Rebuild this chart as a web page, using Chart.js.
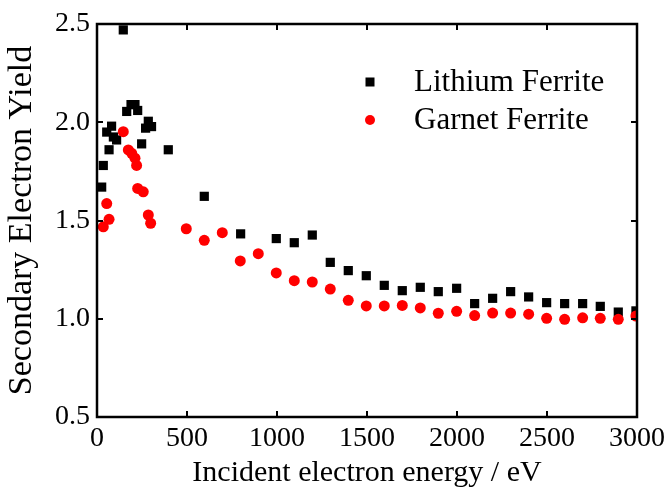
<!DOCTYPE html>
<html><head><meta charset="utf-8">
<script src="https://cdn.jsdelivr.net/npm/chart.js@4.4.0/dist/chart.umd.min.js"></script>
<style>html,body{margin:0;padding:0;background:#fff}canvas{display:block}</style>
</head><body>
<canvas id="c" width="666" height="495"></canvas>
<script>
// ---- data ----
const seriesNames = ['Lithium Ferrite', 'Garnet Ferrite'];
const lithiumX = [26, 35, 54, 67, 81, 91, 109, 146, 165, 189, 211, 226, 248, 270, 285, 303, 396, 596, 798, 996, 1096, 1196, 1296, 1396, 1496, 1596, 1696, 1796, 1896, 1998, 2098, 2198, 2298, 2398, 2498, 2598, 2698, 2796, 2896, 2994];
const lithiumY = [1.67, 1.78, 1.95, 1.86, 1.98, 1.925, 1.91, 2.47, 2.055, 2.09, 2.09, 2.06, 1.89, 1.97, 2.005, 1.978, 1.86, 1.623, 1.432, 1.408, 1.387, 1.426, 1.287, 1.245, 1.219, 1.17, 1.143, 1.16, 1.138, 1.155, 1.077, 1.104, 1.138, 1.111, 1.082, 1.077, 1.077, 1.063, 1.034, 1.04];
const garnetX = [35, 54, 67, 146, 174, 193, 211, 220, 226, 257, 285, 298, 496, 596, 696, 796, 896, 996, 1096, 1196, 1296, 1396, 1496, 1596, 1696, 1796, 1896, 1998, 2098, 2198, 2298, 2398, 2498, 2598, 2698, 2796, 2896, 2994];
const garnetY = [1.468, 1.586, 1.506, 1.952, 1.859, 1.842, 1.817, 1.78, 1.663, 1.646, 1.528, 1.486, 1.458, 1.399, 1.438, 1.294, 1.331, 1.233, 1.194, 1.187, 1.151, 1.094, 1.065, 1.065, 1.068, 1.055, 1.028, 1.038, 1.016, 1.029, 1.029, 1.023, 1.002, 0.997, 1.005, 1.002, 0.997, 1.014];
const xTickValues = [0, 500, 1000, 1500, 2000, 2500, 3000];
const yTickValues = [0.5, 1.0, 1.5, 2.0, 2.5];
const xTitle = 'Incident electron energy / eV';
const yTitle = 'Secondary Electron Yield';

const FONT = "'Liberation Serif', 'Times New Roman', serif";
const toPoints = (xs, ys) => xs.map((x, i) => ({x: x, y: ys[i]}));

// frame + inward ticks, drawn through the chart's own scales
const framePlugin = {
  id: 'frame',
  afterDatasetsDraw(chart) {
    const {ctx, chartArea: a, scales: {x, y}} = chart;
    ctx.save();
    ctx.strokeStyle = '#000';
    ctx.lineWidth = 2.5;
    ctx.strokeRect(a.left, a.top, a.right - a.left, a.bottom - a.top);
    ctx.lineWidth = 2;
    const L = 6;
    ctx.beginPath();
    xTickValues.forEach(v => {
      const px = Math.round(x.getPixelForValue(v));
      ctx.moveTo(px, a.bottom); ctx.lineTo(px, a.bottom - L);
      ctx.moveTo(px, a.top); ctx.lineTo(px, a.top + L);
    });
    yTickValues.forEach(v => {
      const py = Math.round(y.getPixelForValue(v));
      ctx.moveTo(a.left, py); ctx.lineTo(a.left + L, py);
      ctx.moveTo(a.right, py); ctx.lineTo(a.right - L, py);
    });
    ctx.stroke();
    ctx.restore();
  }
};

// legend drawn inside the plot
const legendPlugin = {
  id: 'insideLegend',
  afterDraw(chart) {
    const ctx = chart.ctx;
    ctx.save();
    ctx.font = '31px ' + FONT;
    ctx.textBaseline = 'middle';
    ctx.fillStyle = '#000';
    const mx = 370, tx = 414, rows = [82, 120];
    chart.data.datasets.slice().sort((p, q) => p.legendIndex - q.legendIndex).forEach((ds, i) => {
      const cy = rows[i];
      ctx.fillStyle = ds.backgroundColor;
      if (ds.pointStyle === 'rect') {
        ctx.fillRect(mx - 4.5, cy - 4.5, 9, 9);
      } else {
        ctx.beginPath(); ctx.arc(mx, cy, 5, 0, Math.PI * 2); ctx.fill();
      }
      ctx.fillStyle = '#000';
      ctx.fillText(ds.label, tx, cy + 1);
    });
    ctx.restore();
  }
};

new Chart(document.getElementById('c'), {
  type: 'scatter',
  data: {
    datasets: [
      {label: seriesNames[1], legendIndex: 1, data: toPoints(garnetX, garnetY), pointStyle: 'circle', pointRadius: 5.5,
       backgroundColor: '#ff0000', borderColor: '#ff0000', borderWidth: 0, clip: 0, order: 0},
      {label: seriesNames[0], legendIndex: 0, data: toPoints(lithiumX, lithiumY), pointStyle: 'rect', pointRadius: 6.5,
       backgroundColor: '#000000', borderColor: '#000000', borderWidth: 0, clip: 0, order: 1}
    ]
  },
  options: {
    responsive: false,
    animation: false,
    devicePixelRatio: 1,
    layout: {padding: {top: 24, right: 29, left: 0, bottom: 0}},
    plugins: {legend: {display: false}, tooltip: {enabled: false}},
    scales: {
      x: {
        type: 'linear', min: 0, max: 3000,
        afterBuildTicks: s => { s.ticks = xTickValues.map(v => ({value: v})); },
        afterFit: s => { s.height = 78; s.paddingLeft = 0; s.paddingRight = 0; },
        grid: {display: false, drawTicks: false},
        border: {display: false},
        ticks: {color: '#000', font: {family: FONT, size: 28}, padding: 5, maxRotation: 0, autoSkip: false,
                callback: v => String(v)},
        title: {display: true, text: xTitle, color: '#000', font: {family: FONT, size: 30}, padding: {top: 0, bottom: 4}}
      },
      y: {
        type: 'linear', min: 0.5, max: 2.5,
        afterBuildTicks: s => { s.ticks = yTickValues.map(v => ({value: v})); },
        afterFit: s => { s.width = 97; s.paddingTop = 0; s.paddingBottom = 0; },
        grid: {display: false, drawTicks: false},
        border: {display: false},
        ticks: {color: '#000', font: {family: FONT, size: 28}, padding: 7, callback: v => Number(v).toFixed(1)},
        title: {display: true, text: yTitle, color: '#000', font: {family: FONT, size: 34}, padding: {top: 2, bottom: 0}}
      }
    }
  },
  plugins: [framePlugin, legendPlugin]
});
</script>
</body></html>
